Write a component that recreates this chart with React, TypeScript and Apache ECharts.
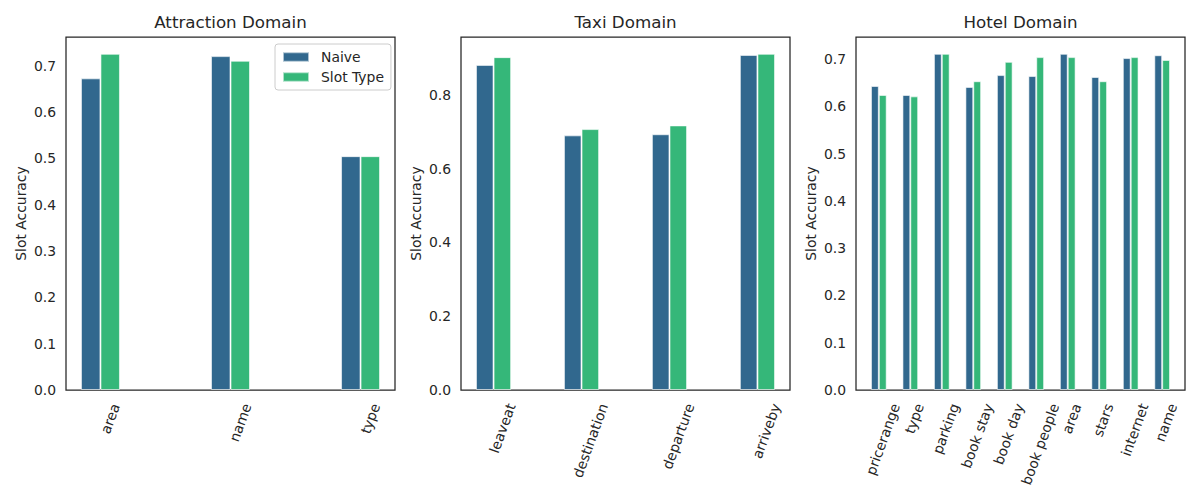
import React, { useEffect, useRef } from "react";
import * as echarts from "echarts";

const attractionSlots = ["area", "name", "type"];
const attractionNaive = [0.673, 0.721, 0.505];
const attractionSlotType = [0.726, 0.711, 0.505];

const taxiSlots = ["leaveat", "destination", "departure", "arriveby"];
const taxiNaive = [0.881, 0.690, 0.693, 0.908];
const taxiSlotType = [0.902, 0.707, 0.717, 0.911];

const hotelSlots = ["pricerange", "type", "parking", "book stay", "book day", "book people", "area", "stars", "internet", "name"];
const hotelNaive = [0.643, 0.624, 0.711, 0.641, 0.666, 0.664, 0.711, 0.662, 0.702, 0.708];
const hotelSlotType = [0.624, 0.621, 0.711, 0.653, 0.694, 0.704, 0.704, 0.653, 0.704, 0.698];

const titles = ["Attraction Domain", "Taxi Domain", "Hotel Domain"];
const yIntervals = [0.1, 0.2, 0.1];
const barWidthsInUnits = [0.15, 0.2, 0.25];
const seriesNames = ["Naive", "Slot Type"];
const colors = ["#31688e", "#35b779"];

const FONT = "DejaVu Sans, sans-serif";
const TEXT = "#262626";
const TICK_FS = 13.9;
const LABEL_ROT = 70;

const panels = [
  { cats: attractionSlots, naive: attractionNaive, slot: attractionSlotType },
  { cats: taxiSlots, naive: taxiNaive, slot: taxiSlotType },
  { cats: hotelSlots, naive: hotelNaive, slot: hotelSlotType },
];

const gridLefts = [66, 461, 856];
const gridTop = 37;
const gridWidth = 329;
const gridHeight = 353;

function measure(text: string): number {
  const c = document.createElement("canvas").getContext("2d");
  if (!c) return text.length * 8;
  c.font = `${TICK_FS}px "DejaVu Sans"`;
  return c.measureText(text).width;
}

export default function App() {
  const ref = useRef<HTMLDivElement>(null);
  useEffect(() => {
    document.body.style.margin = "0";
    if (!ref.current) return;
    const chart = echarts.init(ref.current, undefined, { renderer: "svg" });

    const grids: any[] = [];
    const xAxes: any[] = [];
    const yAxes: any[] = [];
    const series: any[] = [];
    const title: any[] = [];
    const halfCos = Math.cos((LABEL_ROT * Math.PI) / 180) / 2;

    panels.forEach((p, k) => {
      const n = p.cats.length;
      const w = barWidthsInUnits[k];
      // matplotlib-like limits: 5% margin around bar extents
      const lo = -1.5 * w;
      const hi = n - 1 + 0.5 * w;
      const m = 0.05 * (hi - lo);
      const xmin = lo - m;
      const xmax = hi + m;
      const pxPerUnit = gridWidth / (xmax - xmin);
      const barPx = w * pxPerUnit;
      const ymax = 1.05 * Math.max(...p.naive, ...p.slot);
      const iv = yIntervals[k];
      // centre the rotated label's bounding box on its tick (matplotlib style)
      const labelPos = p.cats.map((c, i) => i + (halfCos * measure(c)) / pxPerUnit);
      const nearest = (v: number) => {
        let best = 0;
        labelPos.forEach((q, i) => {
          if (Math.abs(q - v) < Math.abs(labelPos[best] - v)) best = i;
        });
        return best;
      };

      grids.push({
        left: gridLefts[k],
        top: gridTop,
        width: gridWidth,
        height: gridHeight,
        show: true,
        borderColor: TEXT,
        borderWidth: 1.25,
        backgroundColor: "transparent",
        containLabel: false,
        outerBoundsMode: "none",
      });
      title.push({
        text: titles[k],
        left: gridLefts[k] + gridWidth / 2,
        textAlign: "center",
        top: 13,
        padding: 0,
        textStyle: { fontFamily: FONT, fontSize: 16.7, fontWeight: "normal", color: TEXT },
      });
      xAxes.push({
        type: "value",
        gridIndex: k,
        min: xmin,
        max: xmax,
        axisLine: { show: false },
        axisTick: { show: false },
        splitLine: { show: false },
        axisLabel: {
          customValues: labelPos,
          formatter: (v: number) => p.cats[nearest(v)] ?? "",
          rotate: LABEL_ROT,
          margin: 14,
          fontFamily: FONT,
          fontSize: TICK_FS,
          color: TEXT,
        },
      });
      yAxes.push({
        type: "value",
        gridIndex: k,
        min: 0,
        max: ymax,
        interval: iv,
        axisLine: { show: false },
        axisTick: { show: false },
        splitLine: { show: false },
        axisLabel: {
          margin: 10,
          fontFamily: FONT,
          fontSize: TICK_FS,
          color: TEXT,
          formatter: (v: number) =>
            Math.abs(v / iv - Math.round(v / iv)) < 1e-6 ? v.toFixed(1) : "",
        },
        name: "Slot Accuracy",
        nameLocation: "middle",
        nameGap: 38,
        nameTextStyle: { fontFamily: FONT, fontSize: TICK_FS, color: TEXT },
      });
      [p.naive, p.slot].forEach((vals, s) => {
        series.push({
          type: "bar",
          name: seriesNames[s],
          xAxisIndex: k,
          yAxisIndex: k,
          barWidth: barPx,
          barGap: "-100%",
          itemStyle: {
            color: colors[s],
            borderColor: "rgba(255,255,255,0.6)",
            borderWidth: 1,
          },
          data: vals.map((v, i) => [s === 0 ? i - w : i, v]),
        });
      });
    });

    chart.setOption({
      animation: false,
      backgroundColor: "#ffffff",
      textStyle: { fontFamily: FONT },
      title,
      grid: grids,
      xAxis: xAxes,
      yAxis: yAxes,
      legend: {
        data: seriesNames,
        orient: "vertical",
        left: 275,
        top: 44,
        itemWidth: 26,
        itemHeight: 9.5,
        itemGap: 6,
        icon: "rect",
        padding: [6, 7, 6, 7],
        borderColor: "#cccccc",
        borderWidth: 1,
        borderRadius: 3,
        backgroundColor: "rgba(255,255,255,0.8)",
        formatter: "{a|{name}}",
        textStyle: {
          fontFamily: FONT,
          fontSize: TICK_FS,
          color: TEXT,
          rich: { a: { fontFamily: FONT, fontSize: TICK_FS, color: TEXT, padding: [0, 0, 0, 7] } },
        },
      },
      series,
    });
    return () => chart.dispose();
  }, []);
  return <div ref={ref} style={{ width: 1200, height: 500 }} />;
}
